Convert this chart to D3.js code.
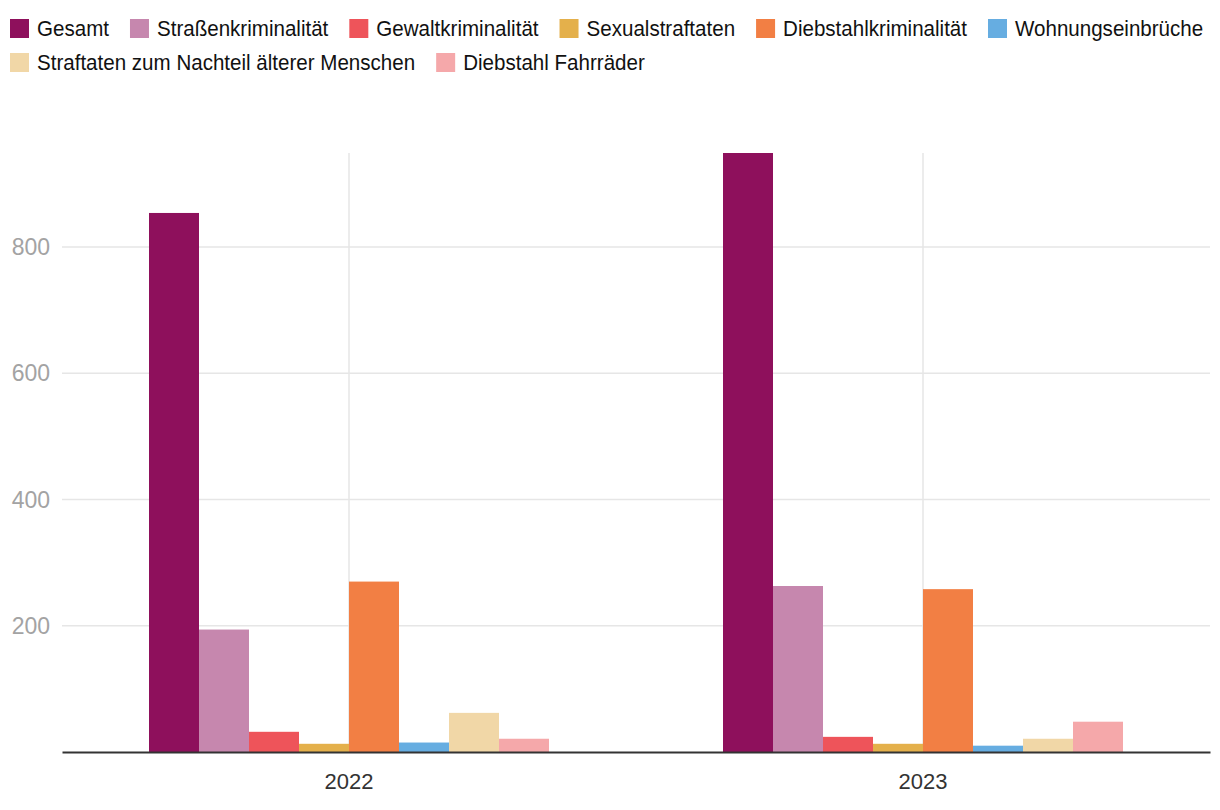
<!DOCTYPE html>
<html><head><meta charset="utf-8">
<script src="https://cdn.jsdelivr.net/npm/d3@7"></script>
<style>
html,body{margin:0;padding:0;background:#fff;}
svg{display:block;}
</style></head>
<body>
<svg id="chart" width="1220" height="810"></svg>
<script>
const years = ["2022", "2023"];
const seriesNames = ["Gesamt", "Straßenkriminalität", "Gewaltkriminalität", "Sexualstraftaten", "Diebstahlkriminalität", "Wohnungseinbrüche", "Straftaten zum Nachteil älterer Menschen", "Diebstahl Fahrräder"];
const seriesColors = ["#8e105c", "#c687ae", "#ee545a", "#e4b04b", "#f27f44", "#66ade1", "#f1d7a7", "#f5a8aa"];
const values2022 = [854, 194, 32, 13, 270, 15, 62, 21];
const values2023 = [949, 263, 24, 13, 258, 10, 21, 48];
const yTicks = [200, 400, 600, 800];

const valuesByYear = [values2022, values2023];
const data = years.map((y, i) => ({year: y, values: seriesNames.map((s, j) => ({series: s, value: valuesByYear[i][j]}))}));

const svg = d3.select("#chart");
const margin = {left: 62, right: 10, top: 153, bottom: 58};
const W = 1220, H = 810;
const x0 = d3.scaleBand().domain(years).range([margin.left, W - margin.right]).paddingInner(0).paddingOuter(0);
const groupW = 400;
const innerPad = (x0.bandwidth() - groupW) / 2;
const x1 = d3.scaleBand().domain(seriesNames).range([innerPad, innerPad + groupW]).padding(0);
const maxV = d3.max(data, d => d3.max(d.values, v => v.value));
const y = d3.scaleLinear().domain([0, maxV]).range([H - margin.bottom, margin.top]);
const color = d3.scaleOrdinal().domain(seriesNames).range(seriesColors);

// horizontal gridlines
svg.append("g").selectAll("line").data(yTicks).join("line")
  .attr("x1", margin.left).attr("x2", W - margin.right)
  .attr("y1", d => y(d)).attr("y2", d => y(d))
  .attr("stroke", "#e6e6e6").attr("stroke-width", 1.5);
// vertical gridlines at category centers
svg.append("g").selectAll("line").data(years).join("line")
  .attr("x1", d => x0(d) + x0.bandwidth() / 2).attr("x2", d => x0(d) + x0.bandwidth() / 2)
  .attr("y1", y(maxV)).attr("y2", y(0))
  .attr("stroke", "#e6e6e6").attr("stroke-width", 1.5);

// y tick labels
svg.append("g").selectAll("text").data(yTicks).join("text")
  .attr("x", 50).attr("y", d => y(d)).attr("dy", "0.35em")
  .attr("text-anchor", "end")
  .attr("font-family", "'Liberation Sans', Arial, sans-serif")
  .attr("font-size", 23).attr("fill", "#a3a3a3")
  .text(d => d);

// bars
const groups = svg.append("g").selectAll("g").data(data).join("g")
  .attr("transform", d => `translate(${x0(d.year)},0)`);
groups.selectAll("rect").data(d => d.values).join("rect")
  .attr("x", d => x1(d.series)).attr("width", x1.bandwidth())
  .attr("y", d => y(d.value)).attr("height", d => y(0) - y(d.value))
  .attr("fill", d => color(d.series));

// x axis
const xAxis = svg.append("g").attr("transform", `translate(0,${y(0)})`)
  .call(d3.axisBottom(x0).tickSize(0).tickPadding(21));
xAxis.select(".domain").attr("stroke", "#333").attr("stroke-width", 2);
xAxis.selectAll("text").attr("font-family", "'Liberation Sans', Arial, sans-serif")
  .attr("font-size", 22).attr("fill", "#333");

// legend
const legend = svg.append("g");
const startX = 10;
let lx = startX, ly = 28.5;
const rowH = 34, maxX = 1215, squeeze = 0.935, sq = 19;
seriesNames.forEach((s, i) => {
  const g = legend.append("g");
  g.append("rect").attr("width", sq).attr("height", sq).attr("y", -sq / 2).attr("fill", seriesColors[i]);
  const t = g.append("text").attr("dy", "0.35em")
    .attr("transform", `translate(27,0) scale(${squeeze},1)`)
    .attr("font-family", "'Liberation Sans', Arial, sans-serif")
    .attr("font-size", 22).attr("fill", "#111").text(s);
  const w = 27 + t.node().getComputedTextLength() * squeeze;
  if (lx + w > maxX) { lx = startX; ly += rowH; }
  g.attr("transform", `translate(${lx},${ly})`);
  lx += w + 21;
});
</script>
</body></html>
